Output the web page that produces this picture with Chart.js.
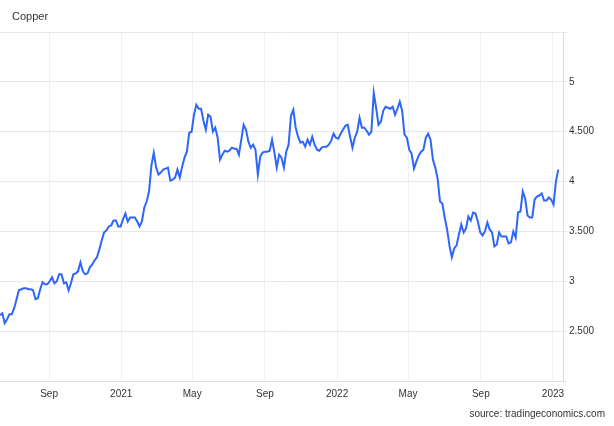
<!DOCTYPE html>
<html lang="en">

<head>
  <meta charset="UTF-8">
  <title>Copper</title>
  <script src="https://cdn.jsdelivr.net/npm/chart.js"></script>
  <style>
    html, body { margin: 0; padding: 0; background: #fff; }
    #wrap {
      position: relative;
      width: 614px;
      height: 426px;
      font-family: "Liberation Sans", Arial, sans-serif;
    }
    #title {
      position: absolute;
      left: 12px;
      top: 10px;
      font-size: 11px;
      color: #333;
    }
    #source {
      position: absolute;
      right: 9px;
      top: 408px;
      font-size: 10px;
      color: #333;
    }
  </style>
</head>

<body>
  <div id="wrap">
    <canvas id="copperChart" width="614" height="426"></canvas>
    <div id="title">Copper</div>
    <div id="source">source: tradingeconomics.com</div>
  </div>

  <script>
    // copper price, USD/lb, one reading every 4 days starting 10 Jun 2020
    const startDate = '2020-06-10';
    const stepDays = 4;
    const prices = [
      2.66, 2.68, 2.58, 2.62, 2.67, 2.67, 2.73, 2.82, 2.91, 2.92,
      2.93, 2.93, 2.92, 2.92, 2.91, 2.82, 2.83, 2.92, 2.99, 2.97,
      2.97, 3.00, 3.04, 2.98, 3.00, 3.07, 3.07, 2.98, 2.99, 2.91,
      2.98, 3.07, 3.08, 3.10, 3.19, 3.10, 3.07, 3.08, 3.14, 3.17,
      3.21, 3.24, 3.32, 3.41, 3.49, 3.51, 3.55, 3.56, 3.61, 3.61,
      3.55, 3.55, 3.62, 3.68, 3.60, 3.64, 3.64, 3.64, 3.60, 3.55,
      3.60, 3.74, 3.80, 3.90, 4.16, 4.29, 4.14, 4.07, 4.09, 4.12,
      4.13, 4.14, 4.01, 4.02, 4.04, 4.12, 4.04, 4.15, 4.24, 4.30,
      4.49, 4.50, 4.67, 4.77, 4.73, 4.73, 4.61, 4.52, 4.67, 4.65,
      4.50, 4.54, 4.44, 4.22, 4.27, 4.31, 4.30, 4.31, 4.34, 4.33,
      4.33, 4.27, 4.42, 4.57, 4.52, 4.40, 4.34, 4.37, 4.32, 4.07,
      4.25, 4.29, 4.30, 4.30, 4.31, 4.42, 4.29, 4.14, 4.27, 4.24,
      4.14, 4.30, 4.37, 4.66, 4.72, 4.54, 4.45, 4.39, 4.40, 4.35,
      4.42, 4.37, 4.45, 4.37, 4.32, 4.31, 4.34, 4.35, 4.35, 4.37,
      4.41, 4.48, 4.44, 4.43, 4.48, 4.52, 4.56, 4.57, 4.45, 4.34,
      4.44, 4.50, 4.64, 4.54, 4.54, 4.51, 4.47, 4.50, 4.89, 4.74,
      4.57, 4.60, 4.71, 4.75, 4.74, 4.73, 4.75, 4.67, 4.73, 4.80,
      4.71, 4.47, 4.44, 4.32, 4.28, 4.13, 4.20, 4.26, 4.30, 4.32,
      4.44, 4.48, 4.42, 4.22, 4.14, 4.03, 3.80, 3.78, 3.64, 3.52,
      3.36, 3.24, 3.33, 3.36, 3.47, 3.57, 3.49, 3.53, 3.65, 3.61,
      3.69, 3.68, 3.60, 3.49, 3.46, 3.50, 3.59, 3.52, 3.49, 3.35,
      3.37, 3.49, 3.45, 3.45, 3.45, 3.38, 3.39, 3.50, 3.44, 3.69,
      3.70, 3.90, 3.83, 3.66, 3.64, 3.64, 3.82, 3.85, 3.86, 3.88,
      3.81, 3.81, 3.84, 3.82, 3.77, 4.00, 4.12
    ];

    const xTickDates = ['2020-09-01', '2021-01-01', '2021-05-01', '2021-09-01',
                        '2022-01-01', '2022-05-01', '2022-09-01', '2023-01-01'];
    const xTickLabels = ['Sep', '2021', 'May', 'Sep', '2022', 'May', 'Sep', '2023'];
    const xEndDate = '2023-01-18';

    const yTickValues = [2.5, 3, 3.5, 4, 4.5, 5];
    const yTickLabels = ['2.500', '3', '3.500', '4', '4.500', '5'];

    const dayMs = 24 * 3600 * 1000;
    const daysFrom = d => Math.round((Date.parse(d) - Date.parse(startDate)) / dayMs);
    const xTickDays = xTickDates.map(daysFrom);
    const points = prices.map((p, i) => ({ x: i * stepDays, y: p }));

    const ctx = document.getElementById('copperChart').getContext('2d');
    new Chart(ctx, {
      type: 'line',
      data: {
        datasets: [{
          label: 'Copper',
          data: points,
          borderColor: '#2f66fa',
          borderWidth: 2,
          pointRadius: 0,
          tension: 0,
          fill: false
        }]
      },
      options: {
        responsive: false,
        animation: false,
        layout: { padding: { top: 32, left: 0, right: 0, bottom: 23 } },
        plugins: {
          legend: { display: false },
          tooltip: { enabled: false }
        },
        scales: {
          x: {
            type: 'linear',
            min: 0,
            max: daysFrom(xEndDate),
            afterBuildTicks: axis => { axis.ticks = xTickDays.map(v => ({ value: v })); },
            afterFit: scale => { scale.height = 22; },
            grid: { color: '#edf1f3', drawTicks: false },
            border: { color: '#dcdcdc' },
            ticks: {
              padding: 7,
              maxRotation: 0,
              autoSkip: false,
              color: '#333',
              font: { family: 'Liberation Sans', size: 10 },
              callback: v => xTickLabels[xTickDays.indexOf(v)] || ''
            }
          },
          y: {
            position: 'right',
            min: 2,
            max: 5.5,
            afterBuildTicks: axis => {
              axis.ticks = [2, 2.5, 3, 3.5, 4, 4.5, 5, 5.5].map(v => ({ value: v }));
            },
            afterFit: scale => { scale.width = 51; },
            grid: { color: '#e8e8e8', tickLength: 4 },
            border: { color: '#dcdcdc' },
            ticks: {
              padding: 2,
              color: '#333',
              font: { family: 'Liberation Sans', size: 10 },
              callback: v => {
                const i = yTickValues.indexOf(v);
                return i >= 0 ? yTickLabels[i] : '';
              }
            }
          }
        }
      }
    });
  </script>
</body>

</html>
